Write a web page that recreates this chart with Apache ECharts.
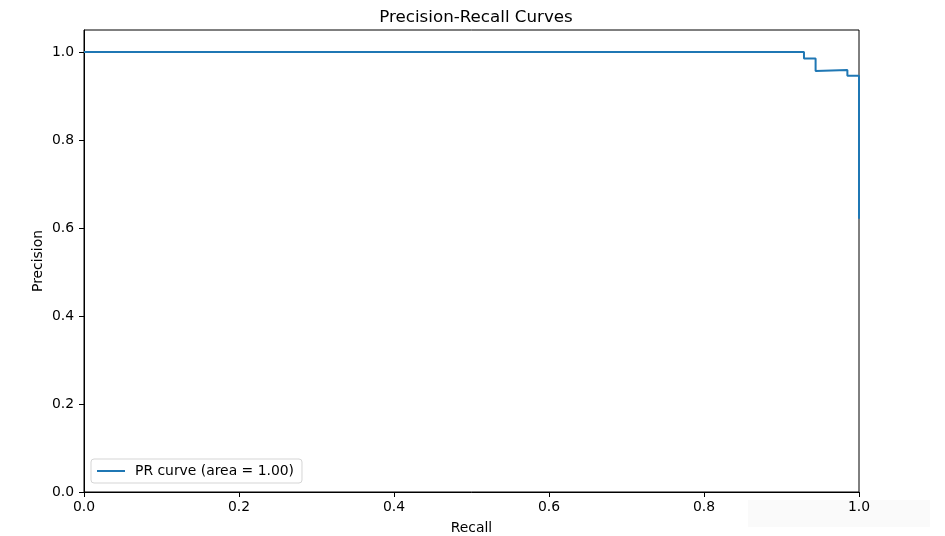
<!DOCTYPE html>
<html><head><meta charset="utf-8">
<script src="https://cdn.jsdelivr.net/npm/echarts@6/dist/echarts.min.js"></script>
<style>html,body{margin:0;padding:0;background:#fff}#c{width:945px;height:536px}</style>
</head><body><div id="c"></div>
<script>
const recall    = [0.0, 0.929, 0.929, 0.944, 0.944, 0.985, 0.985, 1.0, 1.0];
const precision = [1.0, 1.0,   0.985, 0.985, 0.957, 0.959, 0.946, 0.946, 0.621];
const xTicks = [0, 0.2, 0.4, 0.6, 0.8, 1.0];
const yTicks = [0, 0.2, 0.4, 0.6, 0.8, 1.0];
const seriesName = 'PR curve (area = 1.00)';

const font = 'DejaVu Sans';
const fs = 13.9;
const chart = echarts.init(document.getElementById('c'), null, {renderer: 'canvas'});
chart.setOption({
  animation: false,
  backgroundColor: '#fff',
  title: {text: 'Precision-Recall Curves', left: 471, top: 4, textAlign: 'center',
    textStyle: {fontFamily: font, fontSize: 16.7, fontWeight: 'normal', color: '#000'}},
  graphic: [{type: 'rect', left: 748, top: 500, shape: {width: 182, height: 27},
    style: {fill: '#fafafa'}, z: -1}],
  grid: {left: 84, right: 86, top: 30, bottom: 44, show: true, borderColor: '#000', borderWidth: 1,
    backgroundColor: 'transparent', containLabel: false, outerBoundsMode: 'none'},
  legend: {left: 91, top: 459, orient: 'vertical', itemWidth: 28, itemHeight: 2, itemGap: 4,
    padding: [5, 8, 5, 6], borderColor: '#d5d5d5', borderWidth: 1, borderRadius: 3,
    backgroundColor: '#fff',
    icon: 'rect',
    textStyle: {fontFamily: font, fontSize: fs, color: '#000', padding: [0, 0, 0, 5]},
    data: [seriesName]},
  xAxis: {type: 'value', min: 0, max: 1, name: 'Recall', nameLocation: 'middle', nameGap: 29,
    nameMoveOverlap: false,
    nameTextStyle: {fontFamily: font, fontSize: fs, color: '#000'},
    axisLine: {show: true, lineStyle: {color: '#000'}},
    axisTick: {show: true, length: 5, lineStyle: {color: '#000'}, customValues: xTicks},
    axisLabel: {fontFamily: font, fontSize: fs, color: '#000', margin: 8, customValues: xTicks,
      formatter: v => v.toFixed(1)},
    splitLine: {show: false}},
  yAxis: {type: 'value', min: 0, max: 1.05, name: 'Precision', nameLocation: 'middle', nameGap: 39,
    nameMoveOverlap: false,
    nameTextStyle: {fontFamily: font, fontSize: fs, color: '#000'},
    axisLine: {show: true, lineStyle: {color: '#000'}},
    axisTick: {show: true, length: 5, lineStyle: {color: '#000'}, customValues: yTicks},
    axisLabel: {fontFamily: font, fontSize: fs, color: '#000', margin: 10, customValues: yTicks,
      formatter: v => v.toFixed(1)},
    splitLine: {show: false}},
  series: [{name: seriesName, type: 'line', showSymbol: false, symbol: 'none',
    data: recall.map((r, i) => [r, precision[i]]),
    lineStyle: {color: '#1f77b4', width: 2}, itemStyle: {color: '#1f77b4'}, clip: false}]
});
</script></body></html>
